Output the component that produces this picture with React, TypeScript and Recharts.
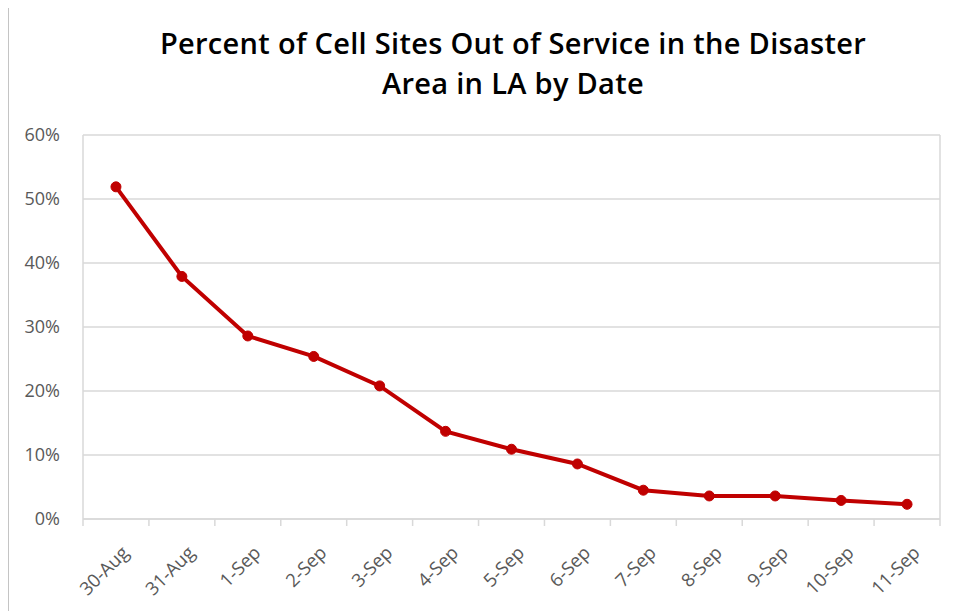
import { CartesianGrid, Line, LineChart, XAxis, YAxis } from 'recharts'

const dates = ['30-Aug', '31-Aug', '1-Sep', '2-Sep', '3-Sep', '4-Sep', '5-Sep', '6-Sep', '7-Sep', '8-Sep', '9-Sep', '10-Sep', '11-Sep']
const outPct = [51.9, 37.9, 28.6, 25.4, 20.8, 13.7, 10.9, 8.6, 4.5, 3.6, 3.6, 2.9, 2.3]
const yTicks = [0, 10, 20, 30, 40, 50, 60]

const rows = dates.map((d, i) => ({ d, v: outPct[i] }))

const GRID = '#d9d9d9'
const LABEL = '#595959'
const RED = '#c00000'
const FONT = '"Open Sans", sans-serif'

function DateTick(props: any) {
  const { x, y, payload, index, width } = props
  const step = width / dates.length
  const left = x - step / 2
  const ax = x + 14
  const ay = y + 27
  return (
    <g>
      <line x1={left} y1={y - 8} x2={left} y2={y - 1} stroke={GRID} strokeWidth={1.5} />
      {index === dates.length - 1 && (
        <line x1={x + step / 2} y1={y - 8} x2={x + step / 2} y2={y - 1} stroke={GRID} strokeWidth={1.5} />
      )}
      <text
        x={ax}
        y={ay}
        transform={`rotate(-45, ${ax}, ${ay})`}
        textAnchor="end"
        fill={LABEL}
        fontSize={18.5}
        fontFamily={FONT}
      >
        {payload.value}
      </text>
    </g>
  )
}

const titleStyle = {
  position: 'absolute' as const,
  left: 0,
  width: 1010,
  textAlign: 'center' as const,
  fontFamily: FONT,
  fontWeight: 600,
  fontSize: 29,
  letterSpacing: 0.3,
  lineHeight: '40px',
  color: '#000',
  whiteSpace: 'nowrap' as const,
}

export default function App() {
  return (
    <div style={{ position: 'relative', width: 947, height: 603 }}>
      <div style={{ position: 'absolute', left: -1, top: -6, width: 2, height: 620, background: '#c4c4c4' }} />
      <div style={{ position: 'absolute', left: -1, top: -6, width: 960, height: 2, background: '#c4c4c4' }} />
      <div style={{ ...titleStyle, top: 15 }}>Percent of Cell Sites Out of Service in the Disaster</div>
      <div style={{ ...titleStyle, top: 55 }}>Area in LA by Date</div>
      <LineChart width={947} height={603} data={rows} margin={{ top: 127, right: 15, bottom: 12, left: 0 }}>
        <CartesianGrid
          stroke={GRID}
          strokeWidth={1.5}
          verticalCoordinatesGenerator={({ offset }: any) => [offset.left, offset.left + offset.width]}
        />
        <XAxis
          dataKey="d"
          scale="band"
          height={80}
          interval={0}
          axisLine={{ stroke: GRID, strokeWidth: 1.5 }}
          tickLine={false}
          tick={<DateTick />}
        />
        <YAxis
          domain={[0, 60]}
          ticks={yTicks}
          width={75}
          axisLine={false}
          tickLine={false}
          tickSize={0}
          tickMargin={23}
          tickFormatter={(v: number) => `${v}%`}
          tick={{ fill: LABEL, fontSize: 18, fontFamily: FONT }}
        />
        <Line
          dataKey="v"
          stroke={RED}
          strokeWidth={4}
          dot={{ r: 5, fill: RED, stroke: RED, strokeWidth: 1 }}
          activeDot={false}
          isAnimationActive={false}
        />
      </LineChart>
    </div>
  )
}
